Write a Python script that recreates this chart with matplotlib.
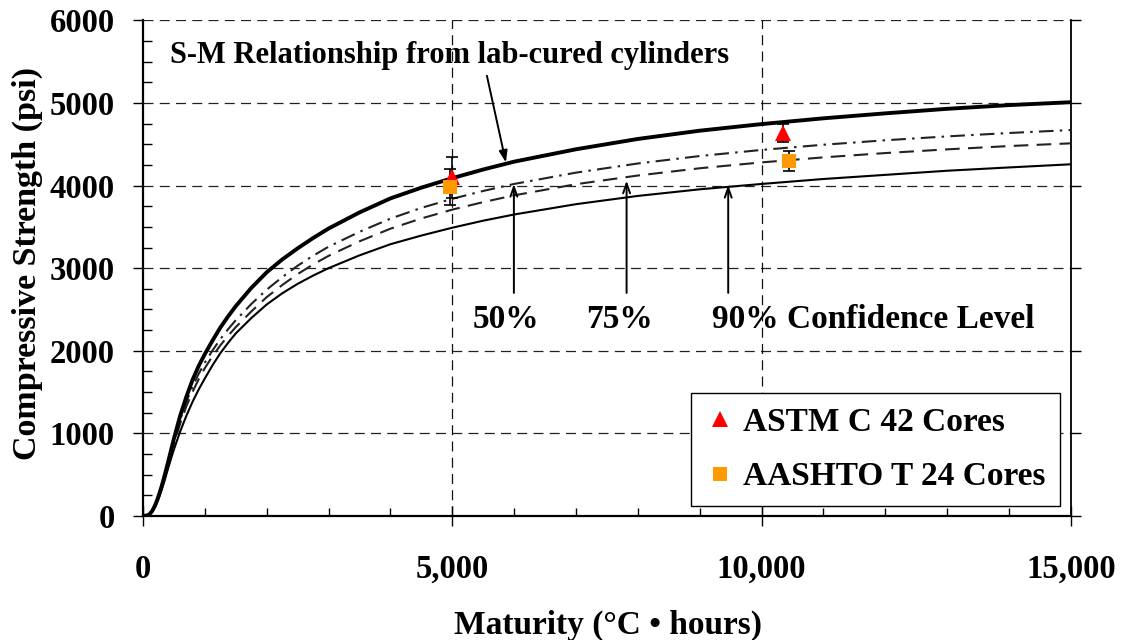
import matplotlib
matplotlib.use("Agg")
import matplotlib.pyplot as plt
from matplotlib.lines import Line2D

plt.rcParams['font.family'] = ['Liberation Serif', 'DejaVu Serif']
plt.rcParams['font.weight'] = 'bold'

# ---------------- data ----------------
maturity = [0, 50, 100, 150, 200, 250, 300, 350, 400, 450, 500, 600, 700, 800,
            900, 1000, 1125, 1250, 1375, 1500, 1750, 2000, 2250, 2500, 2750,
            3000, 3500, 4000, 4500, 5000, 5500, 6000, 7000, 8000, 9000, 10000,
            11000, 12000, 13000, 14000, 15000]
sm_lab = [0, 2, 15, 60, 135, 235, 355, 490, 635, 785, 935, 1210, 1440, 1645,
          1815, 1960, 2125, 2280, 2415, 2540, 2760, 2950, 3105, 3240, 3365,
          3480, 3675, 3845, 3975, 4090, 4195, 4290, 4440, 4565, 4665, 4745,
          4815, 4875, 4930, 4975, 5010]
conf_50 = [0, 2, 15, 58, 130, 228, 345, 475, 615, 760, 900, 1160, 1380, 1565,
           1720, 1855, 2005, 2140, 2260, 2370, 2565, 2740, 2890, 3030, 3150,
           3260, 3440, 3600, 3730, 3840, 3935, 4020, 4157, 4268, 4358, 4432,
           4495, 4549, 4596, 4637, 4673]
conf_75 = [0, 2, 14, 56, 125, 220, 335, 460, 597, 735, 870, 1115, 1325, 1500,
           1655, 1790, 1935, 2065, 2180, 2286, 2475, 2649, 2795, 2928, 3045,
           3149, 3325, 3478, 3602, 3709, 3800, 3882, 4017, 4122, 4210, 4281,
           4342, 4394, 4439, 4479, 4512]
conf_90 = [0, 2, 13, 52, 115, 205, 310, 430, 560, 685, 805, 1020, 1210, 1380,
           1530, 1665, 1825, 1970, 2095, 2210, 2395, 2560, 2695, 2810, 2910,
           3000, 3155, 3290, 3395, 3490, 3575, 3650, 3775, 3875, 3955, 4020,
           4080, 4130, 4180, 4220, 4258]

astm_m = [5000, 10350]
astm_s = [4100, 4640]
astm_err = [250, 110]

aashto_m = [4960, 10450]
aashto_s = [3980, 4300]
aashto_err = [220, 120]

x_ticks = [0, 5000, 10000, 15000]
x_tick_labels = ["0", "5,000", "10,000", "15,000"]
y_ticks = [0, 1000, 2000, 3000, 4000, 5000, 6000]
y_tick_labels = ["0", "1000", "2000", "3000", "4000", "5000", "6000"]

# ---------------- figure ----------------
fig = plt.figure(figsize=(11.26, 6.4), dpi=100)
ax = fig.add_axes([0.127, 0.194, 0.824, 0.774])

ax.set_xlim(0, 15000)
ax.set_ylim(0, 6000)

# grid lines
for yv in y_ticks[1:]:
    ax.axhline(yv, color='#222222', lw=0.9, dashes=(8, 5), zorder=1)
for xv in x_ticks[1:-1]:
    ax.axvline(xv, color='#111111', lw=0.9, dashes=(8, 5), zorder=1)

# curves
ax.plot(maturity, conf_90, color='black', lw=1.5, zorder=3)
ax.plot(maturity, conf_75, color='#222222', lw=1.5, dashes=(7, 4), zorder=3)
ax.plot(maturity, conf_50, color='#222222', lw=1.5, dashes=(7, 3, 1.2, 3), zorder=3)
ax.plot(maturity, sm_lab, color='black', lw=2.8, zorder=4, solid_capstyle='butt')

# core data
ax.errorbar(astm_m, astm_s, yerr=astm_err, fmt='none', ecolor='black',
            elinewidth=1.2, capsize=4, capthick=1.2, zorder=5)
ax.errorbar(aashto_m, aashto_s, yerr=aashto_err, fmt='none', ecolor='black',
            elinewidth=1.2, capsize=4, capthick=1.2, zorder=5)
ax.plot(astm_m, astm_s, ls='none', marker='^', color='#FF0000', markersize=11,
        markeredgewidth=0, zorder=6)
ax.plot(aashto_m, aashto_s, ls='none', marker='s', color='#FF9900', markersize=10.5,
        markeredgewidth=0, zorder=6)

# spines
ax.spines['top'].set_visible(False)
ax.spines['left'].set_linewidth(1.6)
ax.spines['bottom'].set_linewidth(1.6)
ax.spines['right'].set_linewidth(1.3)

# ticks
ax.set_xticks(x_ticks)
ax.set_xticklabels(x_tick_labels)
ax.set_yticks(y_ticks)
ax.set_yticklabels(y_tick_labels)
ax.set_xticks(list(range(1000, 15000, 1000)), minor=True)
ax.set_yticks(list(range(250, 6000, 250)), minor=True)
ax.tick_params(axis='x', which='major', direction='inout', length=15, width=1.0,
               pad=20, labelsize=23.5)
ax.tick_params(axis='x', which='minor', direction='in', length=6, width=1.0)
ax.tick_params(axis='y', which='major', direction='out', length=7.5, width=1.0,
               pad=13, labelsize=23.5, right=True)
ax.tick_params(axis='y', which='minor', direction='in', length=6.5, width=1.0)
for lbl in ax.get_xticklabels() + ax.get_yticklabels():
    lbl.set_fontweight('bold')

ax.set_xlabel("Maturity (°C • hours)", fontsize=24, fontweight='bold')
ax.set_ylabel("Compressive Strength (psi)", fontsize=24.5, fontweight='bold')
ax.xaxis.set_label_coords(0.501, -0.19)
ax.yaxis.set_label_coords(-0.108, 0.51)

# annotations
ax.text(436, 5580, "S-M Relationship from lab-cured cylinders", fontsize=22,
        fontweight='bold', ha='left', va='center', zorder=7)
ax.annotate("", xy=(5867, 4280), xytext=(5560, 5330),
            arrowprops=dict(arrowstyle='-|>,head_length=0.7,head_width=0.25',
                            color='black', lw=1.4, shrinkA=0, shrinkB=0), zorder=7)
arrow_m = [5996, 7818, 9461]
arrow_tip = [4019, 4060, 4007]
for m, tip in zip(arrow_m, arrow_tip):
    ax.annotate("", xy=(m, tip), xytext=(m, 2700),
                arrowprops=dict(arrowstyle='->,head_length=0.7,head_width=0.25',
                                color='black', lw=1.4, shrinkA=0, shrinkB=0), zorder=7)
ax.text(5875, 2380, "50%", fontsize=24, fontweight='bold', ha='center', va='center')
ax.text(7710, 2380, "75%", fontsize=24, fontweight='bold', ha='center', va='center')
ax.text(9197, 2380, "90% Confidence Level", fontsize=24, fontweight='bold',
        ha='left', va='center')

# legend
handles = [Line2D([], [], ls='none', marker='^', color='#FF0000', markersize=11,
                  markeredgewidth=0),
           Line2D([], [], ls='none', marker='s', color='#FF9900', markersize=10.5,
                  markeredgewidth=0)]
leg = ax.legend(handles, ["ASTM C 42 Cores", "AASHTO T 24 Cores"],
                loc='upper right', bbox_to_anchor=(0.988, 0.248), borderaxespad=0,
                prop={'family': 'Liberation Serif', 'weight': 'bold', 'size': 24},
                frameon=True, fancybox=False, edgecolor='black', framealpha=1,
                handlelength=0.9, handletextpad=0.25, labelspacing=0.7,
                borderpad=0.42)
leg.get_frame().set_linewidth(1.0)
leg.set_zorder(8)

fig.savefig("out.png", dpi=100)
